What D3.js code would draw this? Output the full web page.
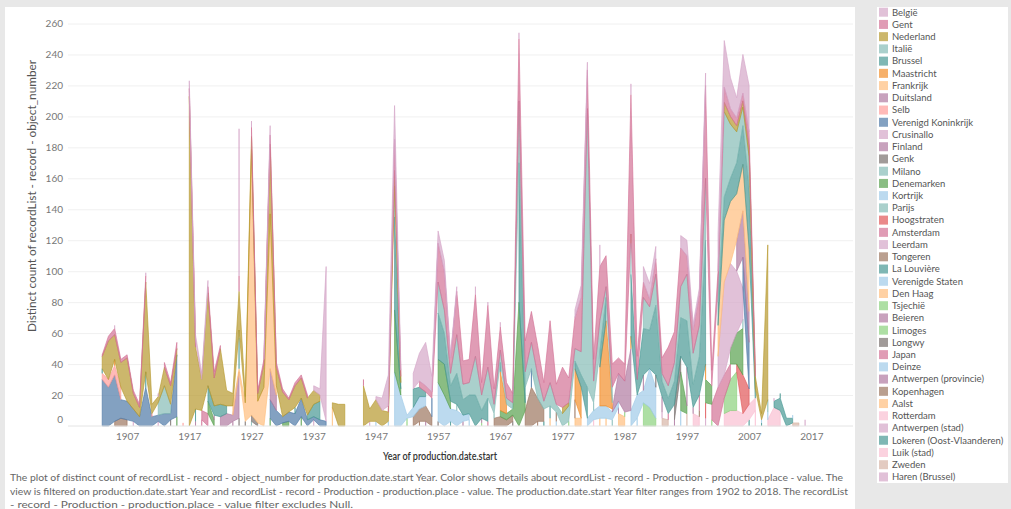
<!DOCTYPE html>
<html>
<head>
<meta charset="utf-8">
<script src="https://cdn.jsdelivr.net/npm/d3@7"></script>
<style>
    body { margin: 0; background: #e8e8e8; font-family: Lato, "Open Sans", sans-serif; }
    svg { display: block; }
</style>
</head>
<body>
<div id="chart-area"></div>
<script>
// years shown and axis ticks
const years = d3.range(1903, 2017);
const xTickYears = d3.range(1907, 2018, 10);
const yTickValues = d3.range(0, 261, 20);

// legend order (top of legend = top of the stack)
const placeNames = ["België", "Gent", "Nederland", "Italië", "Brussel", "Maastricht", "Frankrijk", "Duitsland",
    "Selb", "Verenigd Koninkrijk", "Crusinallo", "Finland", "Genk", "Milano", "Denemarken", "Kortrijk", "Parijs",
    "Hoogstraten", "Amsterdam", "Leerdam", "Tongeren", "La Louvière", "Verenigde Staten", "Den Haag", "Tsjechië",
    "Beieren", "Limoges", "Longwy", "Japan", "Deinze", "Antwerpen (provincie)", "Kopenhagen", "Aalst", "Rotterdam",
    "Antwerpen (stad)", "Lokeren (Oost-Vlaanderen)", "Luik (stad)", "Zweden", "Haren (Brussel)"];

const placeColors = ["#d4a6c8", "#d37295", "#b6992d", "#86bcb6", "#499894", "#f28e2b", "#ffbe7d", "#b07aa1",
    "#ff9d9a", "#4e79a7", "#d4a6c8", "#b07aa1", "#79706e", "#86bcb6", "#59a14f", "#a0cbe8", "#86bcb6",
    "#e15759", "#d37295", "#d4a6c8", "#9d7660", "#499894", "#a0cbe8", "#ffbe7d", "#8cd17d",
    "#b07aa1", "#8cd17d", "#79706e", "#d37295", "#a0cbe8", "#b07aa1", "#9d7660", "#ffbe7d", "#fabfd2",
    "#d4a6c8", "#499894", "#fabfd2", "#d7b5a6", "#d4a6c8"];

// distinct object counts per year, [year, count]; years not listed have no marks
const belgie = [[1905,2],[1910,2],[1912,2],[1917,5],[1918,4],[1919,4],[1920,4],[1925,95],[1927,4],[1929,2],[1930,6],
    [1937,3],[1938,4],[1939,100],[1947,2],[1948,8],[1949,20],[1950,22],[1951,4],[1953,10],[1954,18],[1955,28],[1956,10],
    [1957,8],[1958,7],[1959,2],[1960,3],[1963,5],[1965,2],[1967,3],[1970,4],[1979,5],[1980,8],[1981,5],[1983,14],
    [1988,7],[1990,10],[1991,10],[1992,8],[1996,8],[1997,10],[1998,4],[1999,4],[2000,8],[2002,24],[2003,30],[2004,20],
    [2005,13],[2006,25],[2007,30],[2011,2]];
const gent = [[1903,1],[1904,3],[1905,4],[1906,2],[1907,2],[1908,2],[1909,2],[1910,4],[1913,3],[1914,2],[1915,4],
    [1917,5],[1918,4],[1920,4],[1921,4],[1922,2],[1925,10],[1927,6],[1928,2],[1929,3],[1930,6],[1931,3],[1932,2],
    [1933,1],[1934,2],[1935,2],[1936,2],[1945,4],[1949,4],[1950,20],[1951,4],[1954,4],[1955,4],[1956,4],[1957,25],
    [1958,25],[1959,10],[1960,28],[1961,15],[1962,15],[1963,40],[1964,8],[1965,40],[1966,10],[1967,15],[1968,10],
    [1969,6],[1970,40],[1971,20],[1972,20],[1973,19],[1974,12],[1975,40],[1976,13],[1977,26],[1978,16],[1979,20],
    [1980,35],[1981,25],[1982,14],[1983,35],[1984,20],[1985,15],[1986,10],[1987,11],[1988,90],[1989,15],[1990,10],
    [1991,5],[1992,10],[1993,10],[1994,25],[1995,20],[1996,25],[1997,12],[1998,15],[1999,20],[2000,60],[2001,10],
    [2002,10],[2003,10],[2004,5],[2005,5],[2006,5],[2007,10],[2008,6]];
const nederland = [[1903,8],[1904,25],[1905,16],[1906,16],[1907,28],[1908,10],[1909,6],[1910,58],[1911,6],[1912,4],
    [1913,12],[1914,12],[1915,4],[1917,213],[1918,40],[1919,20],[1920,60],[1921,18],[1922,36],[1923,10],[1924,8],
    [1925,25],[1926,4],[1927,8],[1928,5],[1929,15],[1930,45],[1931,12],[1932,16],[1933,8],[1934,14],[1935,13],
    [1936,11],[1937,9],[1938,4],[1940,3],[1941,14],[1942,14],[1945,26],[1946,8],[1947,14],[1948,10],[1949,6],
    [1950,10],[1951,4],[1977,4],[1978,2],[1988,6],[2003,6],[2004,5],[2005,4],[2006,4],[2007,6],[2008,8],[2009,4],
    [2010,100]];
const italie = [[1912,8],[1913,18],[1914,6],[1925,5],[1950,20],[1957,20],[1958,15],[1959,8],[1960,25],[1961,10],
    [1962,8],[1963,25],[1964,10],[1965,20],[1966,6],[1967,8],[1968,4],[1969,4],[1970,40],[1971,10],[1972,17],
    [1973,15],[1974,5],[1975,15],[1976,5],[1977,8],[1978,10],[1979,8],[1980,15],[1981,180],[1982,14],[1983,20],
    [1984,7],[1985,10],[1988,20],[1990,20],[1991,15],[1992,20],[1993,5],[1994,8],[1995,12],[1996,20],[1997,30],
    [1998,20],[1999,20],[2000,40],[2002,10],[2003,55],[2004,35],[2005,20],[2006,12],[2007,20],[2010,8]];
const brussel = [[1903,3],[1910,10],[1918,8],[1920,10],[1921,6],[1922,8],[1923,5],[1925,20],[1934,4],[1936,3],
    [1937,8],[1938,12],[1950,60],[1951,4],[1953,12],[1954,6],[1955,3],[1957,30],[1958,20],[1959,10],[1960,20],
    [1961,10],[1962,12],[1963,20],[1964,5],[1965,15],[1967,6],[1970,90],[1971,10],[1975,8],[1979,5],[1980,8],
    [1981,20],[1983,10],[1984,15],[1988,40],[1989,10],[1990,30],[1991,25],[1992,45],[1993,10],[1994,10],[1995,15],
    [1996,25],[1997,30],[1998,15],[1999,25],[2000,80],[2002,15],[2003,15],[2004,15],[2005,20],[2006,25],[2007,40],
    [2008,6]];
const maastricht = [[1905,4],[1967,25],[1968,6],[1979,20],[1980,20],[1983,25],[1984,55],[1985,4],[1988,8],[2000,10]];
const frankrijk = [[1924,6],[1925,2],[1926,12],[1927,172],[1928,14],[1929,25],[1930,100],[1931,6],[2002,20],
    [2003,40],[2004,40],[2005,30],[2006,30],[2007,40]];
const duitsland = [[1922,6],[1923,8],[1924,4],[1925,30],[1930,20],[1931,10],[1985,2],[1986,18],[1987,20],[1988,40],
    [1990,10],[1993,10],[1997,25],[2005,20],[2006,30],[2007,20]];
const selb = [[1903,4],[1904,5],[1905,6],[1906,8],[1911,2],[1916,2]];
const verenigdKoninkrijk = [[1903,30],[1904,25],[1905,30],[1906,12],[1907,12],[1908,8],[1909,6],[1910,25],[1911,6],
    [1912,4],[1913,8],[1914,4],[1915,40],[1930,12],[1931,10],[1932,4],[1933,6],[1934,8],[1935,12],[1936,4],[1937,2],
    [1938,4],[1939,3],[1956,12],[1972,12],[2006,20],[2007,30]];
const crusinallo = [[2002,20],[2003,60],[2004,55],[2005,40],[2006,20]];
const finland = [[1921,3],[1964,3],[1998,4]];
const genk = [[1914,4],[1925,5],[1927,4],[1928,2],[1992,8],[1995,10],[1996,10]];
const milano = [[1960,4],[1982,5],[2006,6]];
const denemarken = [[1915,6],[1920,8],[1921,4],[1930,5],[1932,2],[1933,3],[1935,6],[1950,40],[1951,4],[1957,15],
    [1958,20],[1959,5],[1967,4],[1968,4],[1969,4],[1970,80],[1971,5],[1996,25],[1997,5],[2000,15],[2001,12],[2004,10],
    [2005,20],[2006,30]];
const kortrijk = [[1950,35],[1951,20],[1952,2],[1953,6],[1954,8],[1955,6],[1957,25],[1958,20],[1959,8],[1960,10],
    [1961,4],[1962,4],[1981,5],[1982,6],[1983,8],[1984,8],[1985,5],[1986,4],[1988,10],[1989,15],[1990,8],[1991,25],
    [1992,20],[1996,10],[2010,5],[2014,2]];
const parijs = [[1927,3],[1966,3],[1985,4]];
const hoogstraten = [[2000,10],[2005,5],[2006,25],[2007,10]];
const amsterdam = [[1919,6],[1920,8],[1999,10],[2001,10],[2002,25],[2003,15],[2004,10]];
const leerdam = [[1912,3],[1937,4],[1993,4]];
const tongeren = [[1905,3],[1906,5],[1907,4],[1953,6],[1954,8],[1955,10],[1956,6],[1966,5],[1967,6],[1968,4],
    [1969,4],[1971,10],[1972,25],[1973,15],[1974,8],[1976,6],[1979,12]];
const laLouviere = [[1959,3],[1974,3],[2012,3]];
const verenigdeStaten = [[1947,3],[1962,4],[1989,5]];
const denHaag = [[1984,5]];
const tsjechie = [[1952,2],[1964,2],[1987,3],[1990,15],[1991,12],[1992,5],[2003,10],[2004,20],[2005,25]];
const beieren = [[1924,3],[1955,3],[1995,4]];
const limoges = [[1952,3],[1978,3],[2001,4]];
const longwy = [[1926,3],[1957,3],[1969,3]];
const japan = [[1919,4],[1965,3],[1994,4]];
const deinze = [[1949,3],[1976,3],[2009,2]];
const antwerpenProvincie = [[1918,3],[1961,3],[1986,4]];
const kopenhagen = [[1954,3],[1973,3],[1999,4]];
const aalst = [[1940,12],[1975,5],[1979,5],[1980,5],[1983,5],[1986,8],[1987,6]];
const rotterdam = [[1982,4],[1998,8],[1999,6],[2003,8],[2004,10],[2005,10],[2006,8],[2007,10],[2008,8]];
const antwerpenStad = [[1908,3],[1946,3],[2000,5]];
const lokeren = [[2007,4],[2009,2],[2011,4],[2012,8],[2013,5],[2014,3]];
const luik = [[2008,10],[2010,4],[2011,12],[2012,10]];
const zweden = [[1993,5],[1994,4],[1997,8],[2014,2],[2015,2]];
const haren = [[2016,4]];

const placeValues = [belgie, gent, nederland, italie, brussel, maastricht, frankrijk, duitsland, selb,
    verenigdKoninkrijk, crusinallo, finland, genk, milano, denemarken, kortrijk, parijs, hoogstraten, amsterdam,
    leerdam, tongeren, laLouviere, verenigdeStaten, denHaag, tsjechie, beieren, limoges, longwy, japan, deinze,
    antwerpenProvincie, kopenhagen, aalst, rotterdam, antwerpenStad, lokeren, luik, zweden, haren];

const captionLines = [
    "The plot of distinct count of recordList - record - object_number for production.date.start Year.  Color shows details about recordList - record - Production - production.place - value. The",
    "view is filtered on production.date.start Year and recordList - record - Production - production.place - value. The production.date.start Year filter ranges from 1902 to 2018. The recordList",
    "- record - Production - production.place - value filter excludes Null."
];

class PlaceAreaChart {

    constructor(parentElement) {
        this.parentElement = parentElement;
        this.initVis();
    }

    initVis() {
        let vis = this;

        vis.width = 1011;
        vis.height = 509;

        vis.svg = d3.select(`#${vis.parentElement}`).append("svg")
            .attr("width", vis.width)
            .attr("height", vis.height);

        // dashboard background + panels
        vis.svg.append("rect").attr("width", vis.width).attr("height", vis.height).attr("fill", "#e8e8e8");
        vis.svg.append("rect").attr("x", 5).attr("y", 7).attr("width", 850).attr("height", 502).attr("fill", "#fff");
        vis.svg.append("rect").attr("x", 877).attr("y", 7).attr("width", 131).attr("height", 476).attr("fill", "#fff");

        vis.x = d3.scaleLinear().domain([1897.5, 2023.7]).range([68, 853]);
        vis.y = d3.scaleLinear().domain([0, 260]).range([426, 23.5]);

        vis.wrangleData();
    }

    wrangleData() {
        let vis = this;

        // one row per year with a column per place
        let lookup = placeNames.map((name, i) => new Map(placeValues[i]));
        vis.table = years.map(year => {
            let row = { year: year };
            placeNames.forEach((name, i) => row[name] = lookup[i].get(year) || 0);
            return row;
        });

        // bottom of the stack is the last legend entry
        vis.stacked = d3.stack().keys(placeNames.slice().reverse())(vis.table);

        vis.updateVis();
    }

    updateVis() {
        let vis = this;

        // gridlines
        vis.svg.append("g")
            .attr("class", "grid")
            .attr("transform", "translate(68,0)")
            .call(d3.axisLeft(vis.y).tickValues(yTickValues.slice(1)).tickSize(-785).tickFormat(""))
            .call(g => g.select(".domain").remove())
            .call(g => g.selectAll("line").attr("stroke", "#f0f0f0"));

        let colorOf = d3.scaleOrdinal().domain(placeNames).range(placeColors);

        // like Tableau: a place without marks in a year breaks its area,
        // a lone year shows up as a thin vertical sliver
        let area = d3.area()
            .defined(d => d[1] - d[0] > 0)
            .x(d => vis.x(d.data.year))
            .y0(d => vis.y(d[0]))
            .y1(d => vis.y(d[1]));

        vis.svg.append("g").selectAll("path")
            .data(vis.stacked)
            .join("path")
            .attr("d", area)
            .attr("fill", d => colorOf(d.key))
            .attr("fill-opacity", 0.7)
            .attr("stroke", d => colorOf(d.key))
            .attr("stroke-width", 0.8)
            .attr("stroke-opacity", 0.8);

        // zero line
        vis.svg.append("line")
            .attr("x1", 68).attr("x2", 853)
            .attr("y1", vis.y(0)).attr("y2", vis.y(0))
            .attr("stroke", "#e4e4e4");

        // y axis
        vis.svg.append("g")
            .attr("transform", "translate(68,0)")
            .call(d3.axisLeft(vis.y).tickValues(yTickValues).tickSize(0).tickPadding(5))
            .call(g => g.select(".domain").remove())
            .call(g => g.selectAll("text")
                .attr("fill", "#777").style("font-size", "10px").style("font-family", "Lato"))
            .call(g => g.selectAll(".tick").filter(d => d === 0).select("text").attr("y", -7));

        // x axis
        vis.svg.append("g")
            .attr("transform", `translate(0,${vis.y(0)})`)
            .call(d3.axisBottom(vis.x).tickValues(xTickYears).tickFormat(d3.format("d")).tickSize(0).tickPadding(7))
            .call(g => g.select(".domain").remove())
            .call(g => g.selectAll("text")
                .attr("fill", "#777").style("font-size", "10px").style("font-family", "Lato"));

        // axis titles
        vis.svg.append("text")
            .attr("transform", "translate(36,196) rotate(-90)")
            .attr("text-anchor", "middle")
            .attr("fill", "#555")
            .style("font-size", "10.5px")
            .attr("textLength", 272)
            .attr("lengthAdjust", "spacingAndGlyphs")
            .text("Distinct count of recordList - record - object_number");

        vis.svg.append("text")
            .attr("x", 440)
            .attr("y", 460)
            .attr("text-anchor", "middle")
            .attr("fill", "#333")
            .style("font-size", "11px")
            .style("font-weight", "600")
            .attr("textLength", 114)
            .attr("lengthAdjust", "spacingAndGlyphs")
            .text("Year of production.date.start");

        // caption
        let captionWidths = [833, 838, 343];
        vis.svg.append("g").selectAll("text")
            .data(captionLines)
            .join("text")
            .attr("x", 10)
            .attr("y", (d, i) => 481 + i * 13.5)
            .attr("fill", "#666")
            .style("font-size", "9.5px")
            .attr("textLength", (d, i) => captionWidths[i])
            .attr("lengthAdjust", "spacingAndGlyphs")
            .text(d => d);

        // legend
        let legend = vis.svg.append("g").selectAll("g")
            .data(placeNames)
            .join("g")
            .attr("transform", (d, i) => `translate(879,${12.2 + i * 12.23})`);

        legend.append("rect")
            .attr("x", 0).attr("y", -4.5)
            .attr("width", 9).attr("height", 9)
            .attr("fill", d => colorOf(d))
            .attr("fill-opacity", 0.7);

        legend.append("text")
            .attr("x", 13)
            .attr("dy", "0.35em")
            .attr("fill", "#555")
            .style("font-size", "9.5px")
            .text(d => d);
    }
}

new PlaceAreaChart("chart-area");
</script>
</body>
</html>
